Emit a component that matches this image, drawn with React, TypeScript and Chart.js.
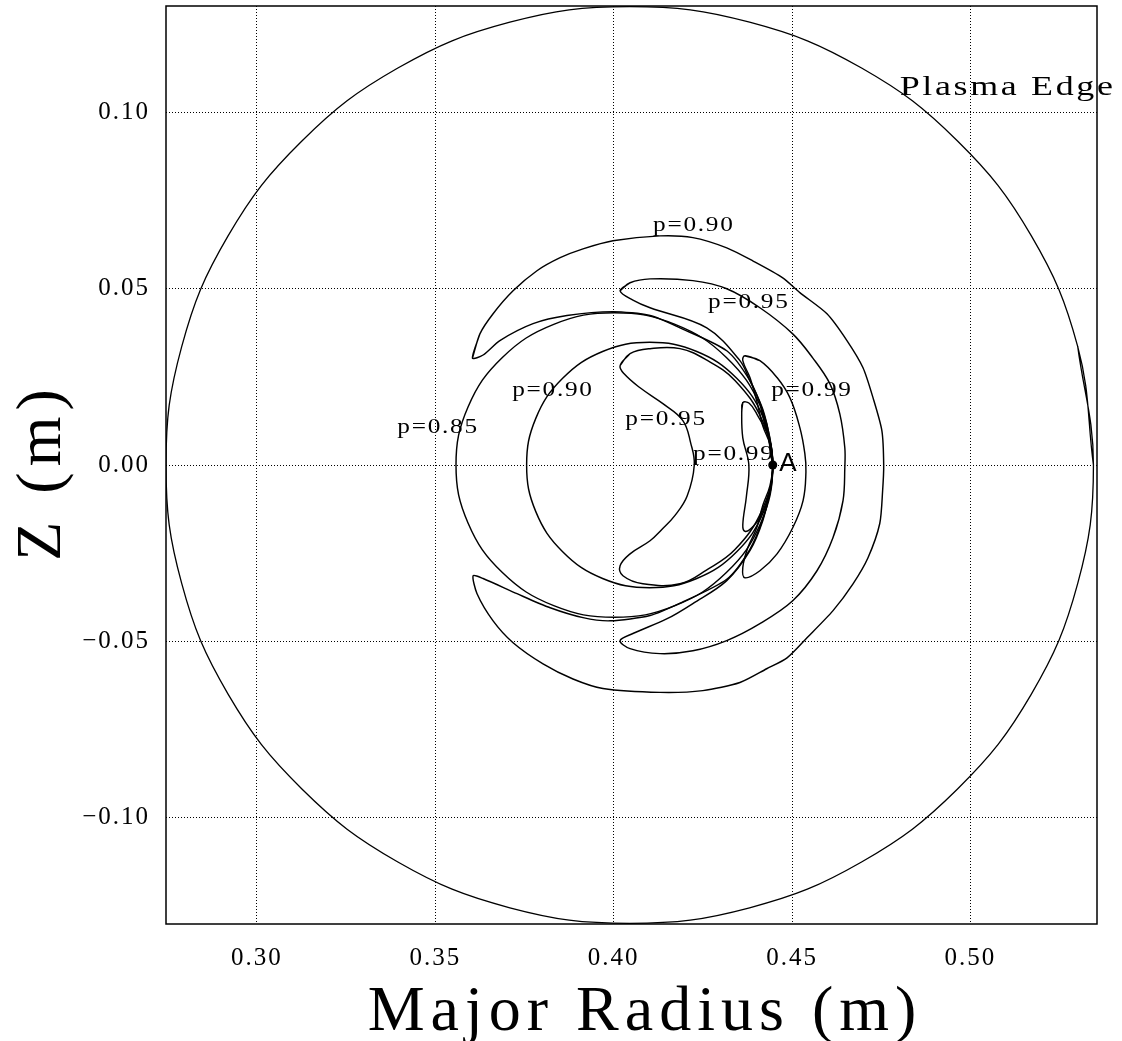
import React, { useEffect, useRef } from "react";
import { Chart, registerables } from "chart.js";

Chart.register(...registerables);

type Pt = [number, number];

// ---- axes ----
const X_MIN = 0.2745;
const X_MAX = 0.5355;
const Y_MIN = -0.1302;
const Y_MAX = 0.1302;
const xTickValues = [0.3, 0.35, 0.4, 0.45, 0.5];
const yTickValues = [-0.1, -0.05, 0, 0.05, 0.1];
const xTitle = "Major Radius (m)";
const yTitle = "Z (m)";

// ---- curves (R, Z) in metres ----
const plasmaEdge: Pt[] = [
  [0.5345, 0], [0.5301, 0.0336], [0.5171, 0.065], [0.4964, 0.0919], [0.4695, 0.1126],
  [0.4381, 0.1256], [0.4045, 0.13], [0.3709, 0.1256], [0.3395, 0.1126], [0.3126, 0.0919],
  [0.2919, 0.065], [0.2789, 0.0336], [0.2745, 0], [0.2789, -0.0336], [0.2919, -0.065],
  [0.3126, -0.0919], [0.3395, -0.1126], [0.3709, -0.1256], [0.4045, -0.13], [0.4381, -0.1256],
  [0.4695, -0.1126], [0.4964, -0.0919], [0.5171, -0.065], [0.5301, -0.0336],
];

const p85: Pt[] = [
  [0.4446, 0], [0.4412, 0.0165], [0.4316, 0.0305], [0.4172, 0.0399], [0.4002, 0.0432],
  [0.3832, 0.0399], [0.3688, 0.0305], [0.3592, 0.0165], [0.3558, 0], [0.3592, -0.0165],
  [0.3688, -0.0305], [0.3832, -0.0399], [0.4002, -0.0432], [0.4172, -0.0399],
  [0.4316, -0.0305], [0.4412, -0.0165],
];

const p90Inner: Pt[] = [
  [0.4446, 0], [0.442, 0.0133], [0.4345, 0.0246], [0.4233, 0.0322], [0.4101, 0.0348],
  [0.3969, 0.0322], [0.3857, 0.0246], [0.3782, 0.0133], [0.3756, 0], [0.3782, -0.0133],
  [0.3857, -0.0246], [0.3969, -0.0322], [0.4101, -0.0348], [0.4233, -0.0322],
  [0.4345, -0.0246], [0.442, -0.0133],
];

const p90Outer: Pt[] = [
  [0.3604, 0.0303], [0.3625, 0.0372], [0.3662, 0.0429], [0.3718, 0.0494], [0.3785, 0.0551],
  [0.385, 0.0588], [0.3914, 0.0613], [0.3998, 0.0636], [0.413, 0.065], [0.4222, 0.0645],
  [0.4317, 0.0616], [0.439, 0.0579], [0.4474, 0.0531], [0.4522, 0.0489], [0.4598, 0.0429],
  [0.4654, 0.0353], [0.4699, 0.0276], [0.4727, 0.0191], [0.4752, 0.0097], [0.4757, 0],
  [0.4754, -0.0073], [0.4746, -0.0166], [0.4713, -0.0263], [0.4671, -0.0337],
  [0.4615, -0.0413], [0.4542, -0.049], [0.4486, -0.0547], [0.4429, -0.0578],
  [0.4354, -0.0617], [0.425, -0.064], [0.413, -0.0645], [0.397, -0.0634], [0.3886, -0.0607],
  [0.3802, -0.0564], [0.3718, -0.0504], [0.3662, -0.0442], [0.3617, -0.0365],
  [0.3606, -0.0314], [0.3634, -0.0322], [0.3729, -0.0365], [0.3822, -0.0405],
  [0.3914, -0.0433], [0.399, -0.0442], [0.4102, -0.0427], [0.4186, -0.0392],
  [0.4317, -0.0324], [0.4382, -0.0239], [0.4418, -0.0154], [0.4438, -0.0077], [0.4446, 0],
  [0.4438, 0.0077], [0.4418, 0.0154], [0.4382, 0.0239], [0.4317, 0.0324], [0.4186, 0.0389],
  [0.4102, 0.0424], [0.3998, 0.0435], [0.3869, 0.0424], [0.3774, 0.0401], [0.3681, 0.0353],
  [0.3634, 0.0312],
];

const p95Outer: Pt[] = [
  [0.4018, 0.0494], [0.4046, 0.0517], [0.4102, 0.0528], [0.4222, 0.0523], [0.4317, 0.05],
  [0.441, 0.0446], [0.4502, 0.0372], [0.4558, 0.0304], [0.4606, 0.0231], [0.4634, 0.0145],
  [0.4648, 0.0049], [0.4648, -0.0008], [0.4643, -0.0101], [0.4615, -0.0206],
  [0.457, -0.03], [0.4502, -0.0385], [0.441, -0.045], [0.4317, -0.0498], [0.4222, -0.0527],
  [0.413, -0.0535], [0.4046, -0.0521], [0.4018, -0.0498], [0.4054, -0.0478],
  [0.415, -0.0436], [0.4222, -0.0393], [0.4317, -0.0328], [0.4382, -0.0243],
  [0.4418, -0.0158], [0.4438, -0.0073], [0.4446, 0], [0.4438, 0.0073], [0.4418, 0.0158],
  [0.4382, 0.0239], [0.4354, 0.0296], [0.4261, 0.0389], [0.4102, 0.0446], [0.4054, 0.0468],
];

const p95Inner: Pt[] = [
  [0.4018, 0.0282], [0.4046, 0.0316], [0.4102, 0.033], [0.4186, 0.033], [0.426, 0.0298],
  [0.434, 0.024], [0.4415, 0.013], [0.4446, 0], [0.4415, -0.013], [0.434, -0.024],
  [0.426, -0.0298], [0.4186, -0.0337], [0.4082, -0.0337], [0.4026, -0.0314],
  [0.4018, -0.0286], [0.4046, -0.0252], [0.4102, -0.0215], [0.4135, -0.0183],
  [0.4172, -0.0143], [0.4206, -0.0088], [0.4226, 0], [0.4216, 0.0062],
  [0.4194, 0.0126], [0.4138, 0.0174], [0.4074, 0.0219], [0.403, 0.0258],
];

const p99Outer: Pt[] = [
  [0.4368, 0.031], [0.441, 0.0296], [0.4458, 0.0248], [0.4494, 0.0191], [0.4522, 0.0106],
  [0.4536, 0.0032], [0.4539, -0.002], [0.4531, -0.0101], [0.4502, -0.0178],
  [0.4458, -0.0252], [0.441, -0.03], [0.4368, -0.032], [0.4362, -0.0291],
  [0.4376, -0.0235], [0.4401, -0.0178], [0.4418, -0.0115], [0.4438, -0.0059], [0.4446, 0],
  [0.4438, 0.0059], [0.4418, 0.0111], [0.4401, 0.0182], [0.4382, 0.0248], [0.4362, 0.0296],
];

const p99Inner: Pt[] = [
  [0.4362, 0.0177], [0.4359, 0.015], [0.4362, 0.0077], [0.4379, 0], [0.4372, -0.009],
  [0.4362, -0.017], [0.4368, -0.0188], [0.4385, -0.018], [0.441, -0.0149],
  [0.4438, -0.0073], [0.4446, 0], [0.4438, 0.0069], [0.4401, 0.0145], [0.438, 0.0175],
];

const pointA: Pt[] = [[0.4446, 0]];

// ---- text annotations (data coordinates) ----
const contourLabels = [
  { text: "p=0.85", x: 0.3505, y: 0.0106 },
  { text: "p=0.90", x: 0.3827, y: 0.0211 },
  { text: "p=0.90", x: 0.4222, y: 0.0681 },
  { text: "p=0.95", x: 0.4376, y: 0.0463 },
  { text: "p=0.95", x: 0.4144, y: 0.0131 },
  { text: "p=0.99", x: 0.4553, y: 0.0211 },
  { text: "p=0.99", x: 0.4334, y: 0.0032 },
];
const edgeLabel = { text: "Plasma Edge", x: 0.4802, y: 0.107 };
const aLabel = { text: "A", x: 0.4464, y: 0.0002 };

const closeLoop = (pts: Pt[]) => [...pts, pts[0], pts[1]].map(([x, y]) => ({ x, y }));

const fmt = (v: number) => {
  const s = Math.abs(v) < 1e-9 ? "0.00" : v.toFixed(2);
  return s.replace("-", "\u2212");
};

export default function App() {
  const ref = useRef<HTMLCanvasElement | null>(null);

  useEffect(() => {
    if (!ref.current) return;
    const curve = (pts: Pt[], tension = 0.4, width = 1.45) => ({
      data: closeLoop(pts),
      showLine: true,
      borderColor: "#000",
      borderWidth: width,
      pointRadius: 0,
      tension,
      fill: false,
    });

    const wideText = (
      ctx: CanvasRenderingContext2D,
      text: string,
      x: number,
      y: number,
      k: number,
      align: CanvasTextAlign
    ) => {
      ctx.save();
      ctx.translate(x, y);
      ctx.scale(k, 1);
      ctx.textAlign = align;
      ctx.fillText(text, 0, 0);
      ctx.restore();
    };

    const annotate = {
      id: "annotate",
      beforeDraw(chart: any) {
        chart.ctx.letterSpacing = "2px";
      },
      afterDraw(chart: any) {
        const { ctx, chartArea, scales } = chart;
        const sx = (v: number) => scales.x.getPixelForValue(v);
        const sy = (v: number) => scales.y.getPixelForValue(v);
        ctx.save();
        ctx.letterSpacing = "0px";
        ctx.strokeStyle = "#000";
        ctx.lineWidth = 1.5;
        ctx.strokeRect(
          chartArea.left,
          chartArea.top,
          chartArea.right - chartArea.left,
          chartArea.bottom - chartArea.top
        );
        ctx.fillStyle = "#000";
        ctx.textBaseline = "middle";
        ctx.font = '22px "Liberation Serif"';
        ctx.letterSpacing = "1.5px";
        for (const l of contourLabels) wideText(ctx, l.text, sx(l.x) + 1, sy(l.y), 1.15, "center");

        ctx.font = '27px "Liberation Serif"';
        ctx.letterSpacing = "2px";
        wideText(ctx, edgeLabel.text, sx(edgeLabel.x), sy(edgeLabel.y), 1.33, "left");

        ctx.font = '26px "Liberation Sans"';
        ctx.letterSpacing = "0px";
        ctx.textAlign = "left";
        ctx.fillText(aLabel.text, sx(aLabel.x), sy(aLabel.y));

        ctx.font = '64px "Liberation Serif"';
        ctx.letterSpacing = "6px";
        ctx.textAlign = "center";
        ctx.textBaseline = "alphabetic";
        ctx.fillText(xTitle, 645, 1030);

        ctx.translate(60, 475);
        ctx.rotate(-Math.PI / 2);
        ctx.fillText(yTitle, 3, 0);
        ctx.restore();
        ctx.letterSpacing = "0px";
      },
    };

    const tickFont = { family: "Liberation Serif", size: 25 };

    const chart = new Chart(ref.current, {
      type: "scatter",
      data: {
        datasets: [
          curve(plasmaEdge, 0.4, 1.3),
          curve(p85),
          curve(p90Inner),
          curve(p90Outer, 0.25),
          curve(p95Outer, 0.35),
          curve(p95Inner),
          curve(p99Outer),
          curve(p99Inner),
          {
            data: pointA.map(([x, y]) => ({ x, y })),
            showLine: false,
            pointRadius: 4.5,
            pointBackgroundColor: "#000",
            pointBorderWidth: 0,
          },
        ] as any,
      },
      options: {
        responsive: false,
        animation: false,
        events: [],
        layout: { padding: { left: 0, top: 6, right: 25, bottom: 0 } },
        plugins: {
          legend: { display: false },
          tooltip: { enabled: false },
          title: { display: false },
        },
        scales: {
          x: {
            type: "linear",
            min: X_MIN,
            max: X_MAX,
            afterFit: (s: any) => {
              s.height = 117;
              s.paddingLeft = 0;
              s.paddingRight = 0;
            },
            afterBuildTicks: (s: any) => {
              s.ticks = xTickValues.map((v) => ({ value: v }));
            },
            ticks: {
              font: tickFont,
              color: "#000",
              padding: 19,
              maxRotation: 0,
              autoSkip: false,
              callback: (v: any) => fmt(Number(v)),
            },
            grid: { color: "#000", lineWidth: 1, drawTicks: false },
            border: { display: false, dash: [1, 2] },
          },
          y: {
            type: "linear",
            min: Y_MIN,
            max: Y_MAX,
            afterFit: (s: any) => {
              s.width = 166;
              s.paddingTop = 0;
              s.paddingBottom = 0;
            },
            afterBuildTicks: (s: any) => {
              s.ticks = yTickValues.map((v) => ({ value: v }));
            },
            ticks: {
              font: tickFont,
              color: "#000",
              padding: 16,
              autoSkip: false,
              callback: (v: any) => fmt(Number(v)),
            },
            grid: { color: "#000", lineWidth: 1, drawTicks: false },
            border: { display: false, dash: [1, 2] },
          },
        },
      } as any,
      plugins: [annotate],
    });
    return () => chart.destroy();
  }, []);

  return (
    <div style={{ position: "absolute", left: 0, top: 0, width: 1122, height: 1041, background: "#fff" }}>
      <canvas ref={ref} width={1122} height={1041} style={{ width: 1122, height: 1041, display: "block" }} />
    </div>
  );
}
